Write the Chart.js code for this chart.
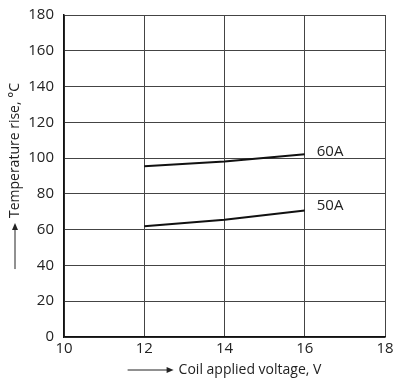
<!DOCTYPE html>
<html>
<head>
<meta charset="utf-8">
<script src="https://cdn.jsdelivr.net/npm/chart.js@4"></script>
<style>
  html, body { margin: 0; padding: 0; background: #fff; }
  #wrap { width: 394px; height: 381px; }
</style>
</head>
<body>
<div id="wrap"><canvas id="tempChart"></canvas></div>
<script>
// coil voltage (V) vs temperature rise (°C)
const voltages = [12, 14, 16];
const rise60A = [95.5, 98.1, 102.2];
const rise50A = [61.9, 65.6, 70.7];
const seriesNames = ['60A', '50A'];
const labelSpots = [[16.3, 103.8], [16.3, 73.5]];

const FONT = '"Open Sans", "Noto Sans", sans-serif';

function toPoints(xs, ys) {
    return xs.map((x, i) => ({ x: x, y: ys[i] }));
}

const annotate = {
    id: 'annotate',
    afterDraw(chart) {
        const ctx = chart.ctx;
        const xs = chart.scales.x;
        const ys = chart.scales.y;
        const area = chart.chartArea;
        ctx.save();
        ctx.fillStyle = '#222';
        ctx.strokeStyle = '#222';

        // series labels
        ctx.font = '15px ' + FONT;
        ctx.textBaseline = 'middle';
        ctx.textAlign = 'left';
        seriesNames.forEach((name, i) => {
            ctx.fillText(name, xs.getPixelForValue(labelSpots[i][0]), ys.getPixelForValue(labelSpots[i][1]));
        });

        // x title with arrow
        ctx.font = '14px ' + FONT;
        const xt = 'Coil applied voltage, V';
        const xw = ctx.measureText(xt).width;
        const arrowLen = 46, gap = 5;
        const xStart = (area.left + area.right) / 2 - (arrowLen + gap + xw) / 2;
        const ty = 370;
        ctx.lineWidth = 1;
        ctx.beginPath();
        ctx.moveTo(xStart, ty);
        ctx.lineTo(xStart + arrowLen - 5, ty);
        ctx.stroke();
        ctx.beginPath();
        ctx.moveTo(xStart + arrowLen, ty);
        ctx.lineTo(xStart + arrowLen - 7, ty - 3);
        ctx.lineTo(xStart + arrowLen - 7, ty + 3);
        ctx.closePath();
        ctx.fill();
        ctx.fillText(xt, xStart + arrowLen + gap, ty);

        // y title with arrow (rotated)
        const yt = 'Temperature rise, °C';
        const yw = ctx.measureText(yt).width;
        ctx.translate(15, (area.top + area.bottom) / 2);
        ctx.rotate(-Math.PI / 2);
        const yStart = -(arrowLen + gap + yw) / 2;
        ctx.beginPath();
        ctx.moveTo(yStart, 0);
        ctx.lineTo(yStart + arrowLen - 5, 0);
        ctx.stroke();
        ctx.beginPath();
        ctx.moveTo(yStart + arrowLen, 0);
        ctx.lineTo(yStart + arrowLen - 7, -3);
        ctx.lineTo(yStart + arrowLen - 7, 3);
        ctx.closePath();
        ctx.fill();
        ctx.fillText(yt, yStart + arrowLen + gap, 0);
        ctx.restore();
    }
};

const lineStyle = {
    borderColor: '#111',
    borderWidth: 2,
    pointRadius: 0,
    fill: false,
    tension: 0
};

new Chart(document.getElementById('tempChart'), {
    type: 'line',
    data: {
        datasets: [
            Object.assign({ label: seriesNames[0], data: toPoints(voltages, rise60A) }, lineStyle),
            Object.assign({ label: seriesNames[1], data: toPoints(voltages, rise50A) }, lineStyle)
        ]
    },
    options: {
        responsive: true,
        maintainAspectRatio: false,
        animation: false,
        layout: { padding: { top: 15, right: 9, left: 0, bottom: 0 } },
        plugins: {
            legend: { display: false },
            tooltip: { enabled: false }
        },
        scales: {
            x: {
                type: 'linear',
                min: 10,
                max: 18,
                ticks: { stepSize: 2, color: '#222', padding: 3, font: { family: FONT, size: 15 } },
                grid: { color: '#444', lineWidth: 1, drawTicks: false },
                border: { color: '#111', width: 1.5 },
                afterFit(scale) {
                    scale.height = 44;
                    scale.paddingLeft = 0;
                    scale.paddingRight = 0;
                }
            },
            y: {
                min: 0,
                max: 180,
                ticks: { stepSize: 20, color: '#222', padding: 10, font: { family: FONT, size: 15 } },
                grid: { color: '#444', lineWidth: 1, drawTicks: false },
                border: { color: '#111', width: 1.5 },
                afterFit(scale) {
                    scale.width = 64;
                    scale.paddingTop = 0;
                    scale.paddingBottom = 0;
                }
            }
        }
    },
    plugins: [annotate]
});
</script>
</body>
</html>
